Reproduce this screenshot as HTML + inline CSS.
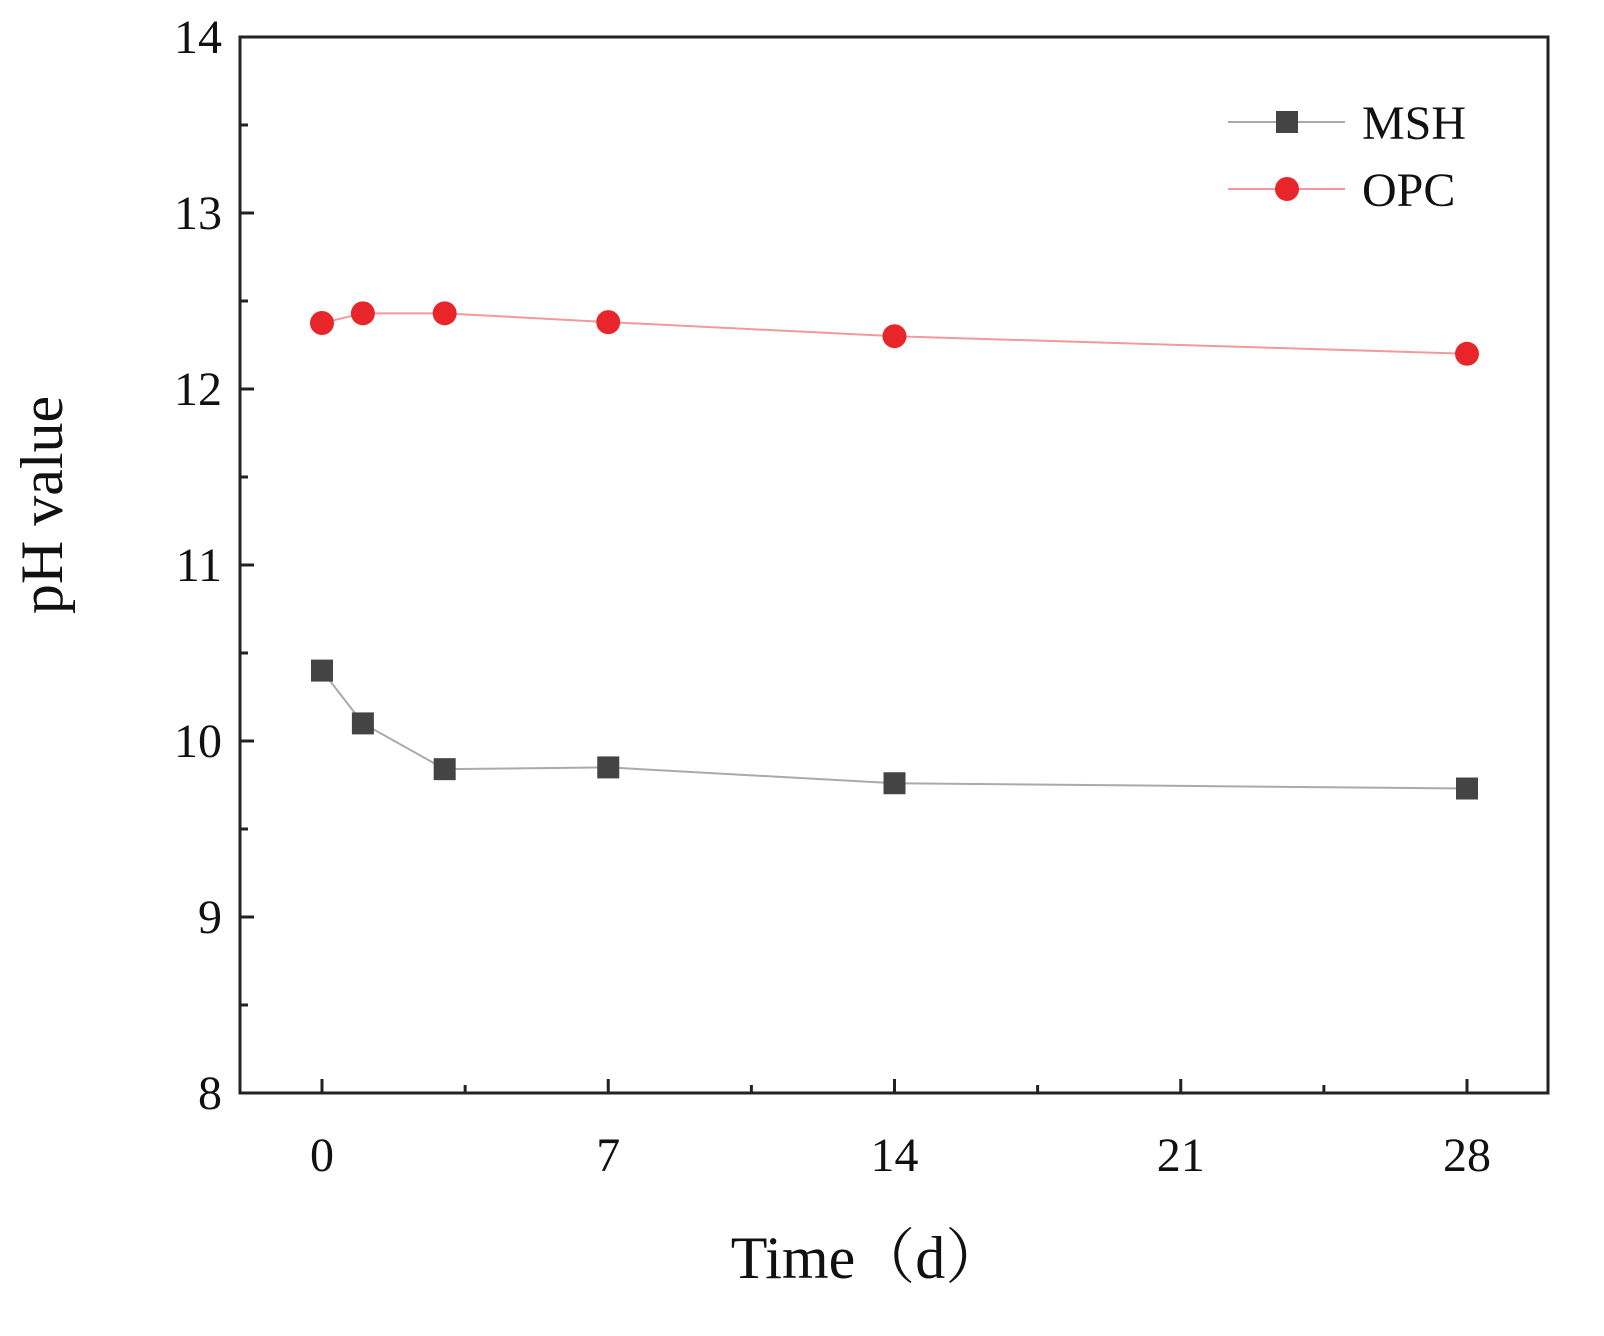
<!DOCTYPE html>
<html><head><meta charset="utf-8"><style>
body{margin:0;background:#fff}
text{font-family:"Liberation Serif","Noto Serif CJK SC",serif;fill:#111}
</style></head><body>
<svg id="c" width="1604" height="1331"></svg>
<script>
const days=[0,1,3,7,14,28];
const mshValues=[10.40,10.10,9.84,9.85,9.76,9.73];
const opcValues=[12.375,12.43,12.43,12.38,12.30,12.20];
const xTicks=[0,7,14,21,28];
const yTicks=[8,9,10,11,12,13,14];
const NS="http://www.w3.org/2000/svg";
const svg=document.getElementById('c');
const L=240,R=1548,T=37,B=1093;
const X=d=>322+d*(1467-322)/28;
const Y=v=>B-(v-8)*(B-T)/6;
function el(t,a,p){const e=document.createElementNS(NS,t);for(const k in a)e.setAttribute(k,a[k]);(p||svg).appendChild(e);return e;}
const frame=el('rect',{x:L,y:T,width:R-L,height:B-T,fill:'none',stroke:'#222','stroke-width':3});


yTicks.forEach(v=>{
  const t=el('line',{x1:L,x2:L+14,y1:Y(v),y2:Y(v),stroke:'#222','stroke-width':3});
  
  
  if(v<14){const m=el('line',{x1:L,x2:L+8,y1:Y(v+0.5),y2:Y(v+0.5),stroke:'#222','stroke-width':3});
  
  }
  const tx=el('text',{x:L-18,y:Y(v)+16,'text-anchor':'end','font-size':48});tx.textContent=v;
  
  
});
xTicks.forEach(d=>{
  const t=el('line',{x1:X(d),x2:X(d),y1:B,y2:B-14,stroke:'#222','stroke-width':3});
  
  
  if(d<28){const m=el('line',{x1:X(d+3.5),x2:X(d+3.5),y1:B,y2:B-8,stroke:'#222','stroke-width':3});
  
  }
  const tx=el('text',{x:X(d),y:B+78,'text-anchor':'middle','font-size':48});tx.textContent=d;
  
  
});
const yt=el('text',{x:0,y:0,'font-size':60,'text-anchor':'middle',transform:'translate(62,505) rotate(-90)'});yt.textContent='pH value';


const xt=el('text',{x:868,y:1278,'font-size':60,'text-anchor':'middle'});xt.textContent='Time（d）';


function series(vals,color,shape,name){
  const pl=el('polyline',{points:days.map((d,i)=>X(d)+','+Y(vals[i])).join(' '),fill:'none',stroke:color,'stroke-width':2});
  
  
  days.forEach((d,i)=>{
    let m;
    if(shape==='sq')m=el('rect',{x:X(d)-11,y:Y(vals[i])-11,width:22,height:22,fill:'#444'});
    else m=el('circle',{cx:X(d),cy:Y(vals[i]),r:12,fill:'#e8262a'});
    
    
  });
}
series(mshValues,'#aaa','sq','msh');
series(opcValues,'#f29a9a','ci','opc');
const l1=el('line',{x1:1228,x2:1345,y1:122,y2:122,stroke:'#aaa','stroke-width':2});


const m1=el('rect',{x:1276,y:111,width:22,height:22,fill:'#444'});


const t1=el('text',{x:1362,y:139,'font-size':48});t1.textContent='MSH';


const l2=el('line',{x1:1228,x2:1345,y1:189,y2:189,stroke:'#f29a9a','stroke-width':2});


const m2=el('circle',{cx:1287,cy:189,r:12,fill:'#e8262a'});


const t2=el('text',{x:1362,y:206,'font-size':48});t2.textContent='OPC';


</script>
</body></html>
